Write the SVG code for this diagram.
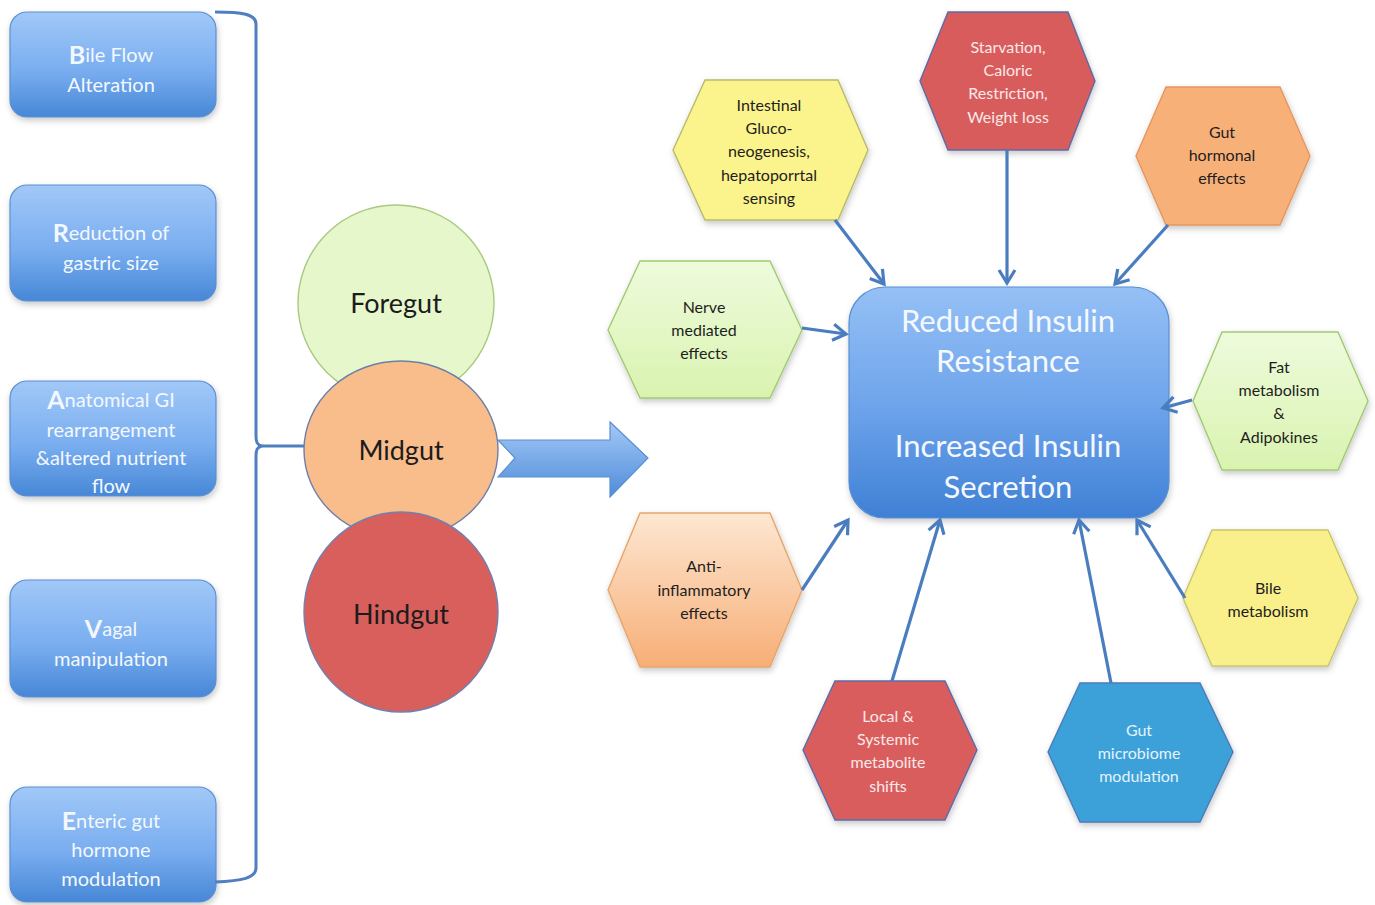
<svg xmlns="http://www.w3.org/2000/svg" width="1375" height="905" viewBox="0 0 1375 905">
  <defs>
    <linearGradient id="gBlue" x1="0" y1="0" x2="0" y2="1">
      <stop offset="0" stop-color="#a1c8f7"/>
      <stop offset="0.55" stop-color="#7aaef0"/>
      <stop offset="1" stop-color="#4787d6"/>
    </linearGradient>
    <linearGradient id="gCenter" x1="0" y1="0" x2="0" y2="1">
      <stop offset="0" stop-color="#95c0f5"/>
      <stop offset="0.5" stop-color="#6fa5ec"/>
      <stop offset="1" stop-color="#3f80d5"/>
    </linearGradient>
    <linearGradient id="gArrow" x1="0" y1="0" x2="0" y2="1">
      <stop offset="0" stop-color="#a3c9f6"/>
      <stop offset="1" stop-color="#508cda"/>
    </linearGradient>
    <linearGradient id="gGreen" x1="0" y1="0" x2="0" y2="1">
      <stop offset="0" stop-color="#eefbdc"/>
      <stop offset="1" stop-color="#d9f3b0"/>
    </linearGradient>
    <linearGradient id="gPeach" x1="0" y1="0" x2="0" y2="1">
      <stop offset="0" stop-color="#fde7d2"/>
      <stop offset="1" stop-color="#f7ae76"/>
    </linearGradient>
    <filter id="shadow" x="-10%" y="-10%" width="125%" height="130%">
      <feDropShadow dx="1" dy="3" stdDeviation="3" flood-color="#000" flood-opacity="0.22"/>
    </filter>
    <marker id="openArrow" markerUnits="userSpaceOnUse" markerWidth="20" markerHeight="20" viewBox="0 0 20 20" refX="16" refY="10" orient="auto">
      <path d="M3,2 L16,10 L3,18" fill="none" stroke="#4a7dbf" stroke-width="3.2" stroke-linejoin="miter"/>
    </marker>
    <style>
      .box { fill: url(#gBlue); stroke: #5a8fd2; stroke-width: 1.2; filter: url(#shadow); }
      .boxText { font-family: Lato, "Liberation Sans", sans-serif; font-size: 20px; fill: #f3f8ff; text-anchor: middle; dominant-baseline: central; }
      .cap { font-size: 25px; font-weight: bold; }
      .circText { font-family: Lato, "Liberation Sans", sans-serif; font-size: 27px; fill: #1c1c1c; text-anchor: middle; dominant-baseline: central; }
      .hex { stroke-width: 1.4; filter: url(#shadow); }
      .hexText { font-family: Lato, "Liberation Sans", sans-serif; font-size: 16px; fill: #1e1e1e; text-anchor: middle; dominant-baseline: central; }
      .light { fill: #fbe9e9; }
      .lightBlue { fill: #e4f3fc; }
      .centerText { font-family: Lato, "Liberation Sans", sans-serif; font-size: 31px; fill: #f5f9ff; text-anchor: middle; dominant-baseline: central; }
      .link { fill: none; stroke: #4a7dbf; stroke-width: 3.2; marker-end: url(#openArrow); }
      .bracket { fill: none; stroke: #4f7fbf; stroke-width: 3; }
    </style>
  </defs>

  <rect width="1375" height="905" fill="#ffffff"/>

  <!-- Surgical mechanisms (left column) -->
  <g id="bile-flow">
    <rect class="box" x="10" y="12" width="206" height="105" rx="17"/>
    <text class="boxText" x="111" y="54"><tspan class="cap">B</tspan>ile Flow</text>
    <text class="boxText" x="111" y="84">Alteration</text>
  </g>
  <g id="gastric-size">
    <rect class="box" x="10" y="185" width="206" height="116" rx="17"/>
    <text class="boxText" x="111" y="232"><tspan class="cap">R</tspan>eduction of</text>
    <text class="boxText" x="111" y="262">gastric size</text>
  </g>
  <g id="anatomical">
    <rect class="box" x="10" y="381" width="206" height="115" rx="17"/>
    <text class="boxText" x="111" y="399"><tspan class="cap">A</tspan>natomical GI</text>
    <text class="boxText" x="111" y="429">rearrangement</text>
    <text class="boxText" x="111" y="457">&amp;altered nutrient</text>
    <text class="boxText" x="111" y="485">flow</text>
  </g>
  <g id="vagal">
    <rect class="box" x="10" y="580" width="206" height="117" rx="17"/>
    <text class="boxText" x="111" y="628"><tspan class="cap">V</tspan>agal</text>
    <text class="boxText" x="111" y="658">manipulation</text>
  </g>
  <g id="enteric">
    <rect class="box" x="10" y="787" width="206" height="115" rx="17"/>
    <text class="boxText" x="111" y="820"><tspan class="cap">E</tspan>nteric gut</text>
    <text class="boxText" x="111" y="849">hormone</text>
    <text class="boxText" x="111" y="878">modulation</text>
  </g>

  <!-- Gut segments -->
  <g id="foregut">
    <circle cx="396" cy="303" r="98" fill="#e6f8cb" stroke="#a9c97f" stroke-width="1.4"/>
    <text class="circText" x="396" y="302">Foregut</text>
  </g>
  <g id="midgut">
    <ellipse cx="401" cy="450" rx="97" ry="89" fill="#f8bd8b" stroke="#6d7fa9" stroke-width="1.4"/>
    <text class="circText" x="401" y="449">Midgut</text>
  </g>
  <g id="hindgut">
    <ellipse cx="401" cy="612" rx="97" ry="100" fill="#d95f5d" stroke="#7080b0" stroke-width="1.4"/>
    <text class="circText" x="401" y="613">Hindgut</text>
  </g>

  <!-- Outcome -->
  <g id="outcome">
    <rect x="849" y="287" width="320" height="231" rx="36" fill="url(#gCenter)" stroke="#5a8fd2" stroke-width="1.2" filter="url(#shadow)"/>
    <text class="centerText" x="1008" y="320">Reduced Insulin</text>
    <text class="centerText" x="1008" y="360">Resistance</text>
    <text class="centerText" x="1008" y="445">Increased Insulin</text>
    <text class="centerText" x="1008" y="486">Secretion</text>
  </g>

  <!-- Contributing effects -->
  <g id="intestinal">
    <polygon class="hex" points="673,150 705,80 838,80 868,150 838,220 705,220" fill="#fbf38c" stroke="#b8ba6c"/>
    <text class="hexText" x="769" y="104">Intestinal</text>
    <text class="hexText" x="769" y="127">Gluco-</text>
    <text class="hexText" x="769" y="150">neogenesis,</text>
    <text class="hexText" x="769" y="174">hepatoporrtal</text>
    <text class="hexText" x="769" y="197">sensing</text>
  </g>
  <g id="starvation">
    <polygon class="hex" points="920,81 948,12 1068,12 1095,81 1068,150 948,150" fill="#d85b5b" stroke="#5e6ba6"/>
    <text class="hexText light" x="1008" y="46">Starvation,</text>
    <text class="hexText light" x="1008" y="69">Caloric</text>
    <text class="hexText light" x="1008" y="92">Restriction,</text>
    <text class="hexText light" x="1008" y="116">Weight loss</text>
  </g>
  <g id="gut-hormonal">
    <polygon class="hex" points="1136,156 1166,87 1280,87 1310,156 1280,225 1166,225" fill="#f8b079" stroke="#e4975e"/>
    <text class="hexText" x="1222" y="131">Gut</text>
    <text class="hexText" x="1222" y="154">hormonal</text>
    <text class="hexText" x="1222" y="177">effects</text>
  </g>
  <g id="nerve">
    <polygon class="hex" points="608,330 640,261 770,261 802,330 770,398 640,398" fill="url(#gGreen)" stroke="#a2ca72"/>
    <text class="hexText" x="704" y="306">Nerve</text>
    <text class="hexText" x="704" y="329">mediated</text>
    <text class="hexText" x="704" y="352">effects</text>
  </g>
  <g id="fat">
    <polygon class="hex" points="1193,401 1222,332 1338,332 1368,401 1338,470 1222,470" fill="url(#gGreen)" stroke="#a2ca72"/>
    <text class="hexText" x="1279" y="366">Fat</text>
    <text class="hexText" x="1279" y="389">metabolism</text>
    <text class="hexText" x="1279" y="412">&amp;</text>
    <text class="hexText" x="1279" y="436">Adipokines</text>
  </g>
  <g id="anti-inflammatory">
    <polygon class="hex" points="608,590 640,513 770,513 802,590 770,667 640,667" fill="url(#gPeach)" stroke="#e8a56b"/>
    <text class="hexText" x="704" y="565">Anti-</text>
    <text class="hexText" x="704" y="589">inflammatory</text>
    <text class="hexText" x="704" y="612">effects</text>
  </g>
  <g id="bile-metabolism">
    <polygon class="hex" points="1183,598 1212,530 1328,530 1358,598 1328,666 1212,666" fill="#faf08b" stroke="#c7c56c"/>
    <text class="hexText" x="1268" y="587">Bile</text>
    <text class="hexText" x="1268" y="610">metabolism</text>
  </g>
  <g id="metabolite">
    <polygon class="hex" points="803,750 835,681 945,681 977,750 945,820 835,820" fill="#d95d5d" stroke="#5b6ba8"/>
    <text class="hexText light" x="888" y="715">Local &amp;</text>
    <text class="hexText light" x="888" y="738">Systemic</text>
    <text class="hexText light" x="888" y="761">metabolite</text>
    <text class="hexText light" x="888" y="785">shifts</text>
  </g>
  <g id="microbiome">
    <polygon class="hex" points="1048,752 1080,683 1200,683 1233,752 1200,822 1080,822" fill="#3ca1d9" stroke="#4a7bb9"/>
    <text class="hexText lightBlue" x="1139" y="729">Gut</text>
    <text class="hexText lightBlue" x="1139" y="752">microbiome</text>
    <text class="hexText lightBlue" x="1139" y="775">modulation</text>
  </g>

  <!-- Connectors -->
  <g id="connectors">
    <path class="bracket" d="M215,12 C242,12 256,14 256,24 V436 C256,442 257,445 262,446 C257,447 256,450 256,456 V868 C256,878 242,881 215,882"/>
    <line class="bracket" x1="262" y1="446" x2="304" y2="446"/>
    <path d="M498,440 H610 V422 L648,458 L610,497 V477 H498 L515,458 Z" fill="url(#gArrow)" stroke="#5b8fd0" stroke-width="1.2"/>
    <line class="link" x1="835" y1="220" x2="884" y2="284"/>
    <line class="link" x1="1007" y1="150" x2="1007" y2="283"/>
    <line class="link" x1="1168" y1="225" x2="1115" y2="284"/>
    <line class="link" x1="802" y1="328" x2="846" y2="334"/>
    <line class="link" x1="1192" y1="400" x2="1163" y2="408"/>
    <line class="link" x1="802" y1="590" x2="848" y2="520"/>
    <line class="link" x1="892" y1="681" x2="940" y2="520"/>
    <line class="link" x1="1111" y1="683" x2="1079" y2="520"/>
    <line class="link" x1="1185" y1="598" x2="1137" y2="520"/>
  </g>
</svg>
